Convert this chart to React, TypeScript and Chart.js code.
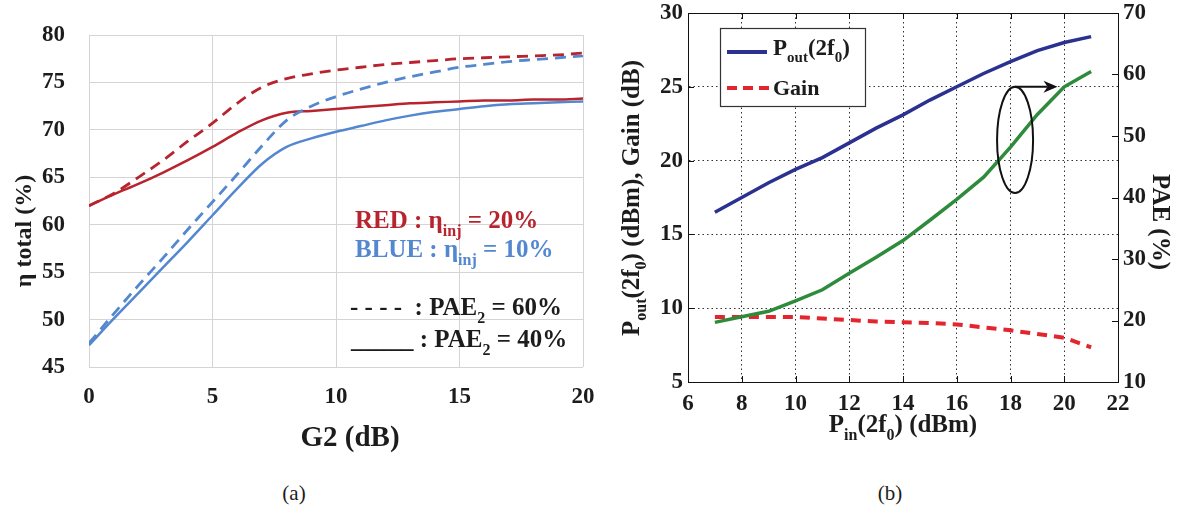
import React, { useEffect, useRef } from 'react';
import { Chart, registerables } from 'chart.js';

Chart.register(...registerables);

const SERIF = "'Liberation Serif', 'Times New Roman', serif";

// ---------- Chart (a) data ----------
const g2 = [0, 1, 2, 3, 4, 5, 6, 7, 8, 9, 10, 11, 12, 13, 14, 15, 16, 17, 18, 19, 20];
const redDashed = [62.0, 63.3, 65.0, 66.8, 68.8, 70.7, 72.8, 74.5, 75.4, 75.9, 76.3, 76.6, 76.9, 77.1, 77.3, 77.5, 77.6, 77.7, 77.8, 77.9, 78.1];
const redSolid = [62.0, 63.2, 64.3, 65.5, 66.8, 68.2, 69.7, 71.0, 71.8, 72.0, 72.2, 72.4, 72.6, 72.8, 72.9, 73.0, 73.1, 73.1, 73.2, 73.2, 73.3];
const blueDashed = [47.5, 50.6, 53.6, 56.5, 59.5, 62.4, 65.3, 68.3, 71.0, 72.5, 73.5, 74.3, 75.0, 75.6, 76.1, 76.6, 76.9, 77.2, 77.4, 77.6, 77.8];
const blueSolid = [47.3, 50.1, 52.8, 55.5, 58.2, 61.0, 63.8, 66.4, 68.2, 69.1, 69.8, 70.4, 71.0, 71.5, 71.9, 72.2, 72.5, 72.7, 72.8, 72.9, 73.0];
const aXRange = [0, 20, 5];
const aYRange = [45, 80, 5];

// ---------- Chart (b) data ----------
const pin = [7, 8, 9, 10, 11, 12, 13, 14, 15, 16, 17, 18, 19, 20, 21];
const pout = [16.5, 17.5, 18.5, 19.4, 20.2, 21.2, 22.2, 23.1, 24.1, 25.0, 25.9, 26.7, 27.45, 28.0, 28.4];
const gain = [9.4, 9.4, 9.4, 9.4, 9.3, 9.2, 9.1, 9.05, 9.0, 8.9, 8.7, 8.5, 8.25, 8.0, 7.35];
const pae = [19.7, 20.6, 21.5, 23.2, 25.0, 27.7, 30.3, 33.0, 36.3, 39.7, 43.3, 48.2, 53.5, 58.0, 60.5];
const bXRange = [6, 22, 2];
const bYLeftRange = [5, 30, 5];
const bYRightRange = [10, 70, 10];
// ellipse annotation (x in dBm, y on left axis)
const ELLIPSE = { x: 18.17, y: 21.4, rx: 0.67, ry: 3.6 };
const ARROW_END_X = 19.75;

const RED_A = '#b8242e';
const BLUE_A = '#5387cf';
const NAVY_B = '#2b3190';
const GREEN_B = '#2e8b3c';
const RED_B = '#e3262d';
const TXT = '#1c1c1c';

// canvas offsets (canvas is shifted up so the plot areas land where they should)
const OA = 10;
const OB = 12;

type Seg = { t: string; sub?: boolean };

function fontFor(size: number, sub: boolean | undefined, weight: string) {
  return `${weight} ${sub ? Math.round(size * 0.64) : size}px ${SERIF}`;
}

function drawRich(
  ctx: CanvasRenderingContext2D,
  segs: Seg[],
  x: number,
  y: number,
  o: { size: number; color?: string; weight?: string; align?: 'left' | 'center'; rotate?: number; vcenter?: boolean }
) {
  const weight = o.weight ?? 'bold';
  ctx.save();
  ctx.translate(x, y);
  if (o.rotate) ctx.rotate(o.rotate);
  ctx.textBaseline = 'alphabetic';
  ctx.textAlign = 'left';
  let w = 0;
  for (const s of segs) {
    ctx.font = fontFor(o.size, s.sub, weight);
    w += ctx.measureText(s.t).width;
  }
  let cx = o.align === 'center' ? -w / 2 : 0;
  const by = o.vcenter ? o.size * 0.34 : 0;
  ctx.fillStyle = o.color ?? TXT;
  for (const s of segs) {
    ctx.font = fontFor(o.size, s.sub, weight);
    ctx.fillText(s.t, cx, by + (s.sub ? o.size * 0.3 : 0));
    cx += ctx.measureText(s.t).width;
  }
  ctx.restore();
}

const tickFont = (size: number) => ({ family: SERIF, size, weight: 'bold' as const });

function ChartA() {
  const ref = useRef<HTMLCanvasElement>(null);
  useEffect(() => {
    const toPts = (ys: number[]) => ys.map((y, i) => ({ x: g2[i], y }));
    const decor = {
      id: 'decorA',
      afterDraw(chart: any) {
        const ctx = chart.ctx as CanvasRenderingContext2D;
        drawRich(ctx, [{ t: 'η total (%)' }], 23, 231 + OA, { size: 24, rotate: -Math.PI / 2, vcenter: true, align: 'center' });
        drawRich(ctx, [{ t: 'G2 (dB)' }], 350, 446 + OA, { size: 29, align: 'center' });
        drawRich(ctx, [{ t: 'RED : η' }, { t: 'inj', sub: true }, { t: ' = 20%' }], 355, 228 + OA, { size: 25, color: RED_A });
        drawRich(ctx, [{ t: 'BLUE : η' }, { t: 'inj', sub: true }, { t: ' = 10%' }], 355, 257 + OA, { size: 25, color: BLUE_A });
        drawRich(ctx, [{ t: '- - - -  : PAE' }, { t: '2', sub: true }, { t: ' = 60%' }], 350, 315 + OA, { size: 25 });
        drawRich(ctx, [{ t: '_____ : PAE' }, { t: '2', sub: true }, { t: ' = 40%' }], 351, 347 + OA, { size: 25 });
      },
    };
    const line = (data: number[], color: string, dashed: boolean) => ({
      data: toPts(data),
      borderColor: color,
      borderWidth: dashed ? 2.8 : 2.5,
      borderDash: dashed ? [11, 7] : [],
      pointRadius: 0,
      cubicInterpolationMode: 'monotone' as const,
      fill: false,
    });
    const chart = new Chart(ref.current!, {
      type: 'line',
      data: {
        datasets: [
          line(blueDashed, BLUE_A, true),
          line(blueSolid, BLUE_A, false),
          line(redDashed, RED_A, true),
          line(redSolid, RED_A, false),
        ],
      },
      options: {
        animation: false,
        responsive: false,
        devicePixelRatio: 1,
        layout: { padding: { top: 35 + OA, right: 30, left: 0, bottom: 0 } },
        plugins: { legend: { display: false }, tooltip: { enabled: false } },
        scales: {
          x: {
            type: 'linear',
            min: aXRange[0],
            max: aXRange[1],
            ticks: { stepSize: aXRange[2], font: tickFont(23), color: TXT, padding: 16 },
            grid: { color: '#d4d4d4', drawTicks: false, lineWidth: 1 },
            border: { display: false },
            afterFit: (s: any) => { s.height = 103; },
          },
          y: {
            type: 'linear',
            min: aYRange[0],
            max: aYRange[1],
            ticks: { stepSize: aYRange[2], font: tickFont(23), color: TXT, padding: 24 },
            grid: { color: '#d4d4d4', drawTicks: false, lineWidth: 1 },
            border: { display: false },
            afterFit: (s: any) => { s.width = 89; },
          },
        },
      },
      plugins: [decor],
    } as any);
    return () => chart.destroy();
  }, []);
  return <canvas ref={ref} width={613} height={470 + OA} style={{ position: 'absolute', left: 0, top: -OA, width: 613, height: 470 + OA }} />;
}

function ChartB() {
  const ref = useRef<HTMLCanvasElement>(null);
  useEffect(() => {
    const toPts = (ys: number[]) => ys.map((y, i) => ({ x: pin[i], y }));
    const decor = {
      id: 'decorB',
      afterDraw(chart: any) {
        const ctx = chart.ctx as CanvasRenderingContext2D;
        const { left, right, top, bottom } = chart.chartArea;
        const xs = chart.scales.x, yl = chart.scales.y, yr = chart.scales.y1;
        ctx.save();
        ctx.strokeStyle = '#111';
        ctx.lineWidth = 1;
        ctx.beginPath();
        ctx.moveTo(left, Math.round(top) + 0.5);
        ctx.lineTo(right, Math.round(top) + 0.5);
        const T = 6;
        for (const t of xs.ticks) {
          const p = Math.round(xs.getPixelForValue(t.value)) + 0.5;
          ctx.moveTo(p, bottom); ctx.lineTo(p, bottom - T);
          ctx.moveTo(p, top); ctx.lineTo(p, top + T);
        }
        for (const t of yl.ticks) {
          const p = Math.round(yl.getPixelForValue(t.value)) + 0.5;
          ctx.moveTo(left, p); ctx.lineTo(left + T, p);
        }
        for (const t of yr.ticks) {
          const p = Math.round(yr.getPixelForValue(t.value)) + 0.5;
          ctx.moveTo(right, p); ctx.lineTo(right - T, p);
        }
        ctx.stroke();

        // legend box
        const bx = left + 32, by = top + 15, bw = 145, bh = 78;
        ctx.fillStyle = '#fff';
        ctx.fillRect(bx, by, bw, bh);
        ctx.strokeStyle = '#333';
        ctx.lineWidth = 1.2;
        ctx.strokeRect(bx + 0.5, by + 0.5, bw, bh);
        ctx.lineWidth = 4;
        ctx.strokeStyle = NAVY_B;
        ctx.beginPath();
        ctx.moveTo(bx + 7, by + 24); ctx.lineTo(bx + 47, by + 24);
        ctx.stroke();
        ctx.strokeStyle = RED_B;
        ctx.setLineDash([10, 6]);
        ctx.beginPath();
        ctx.moveTo(bx + 7, by + 60); ctx.lineTo(bx + 49, by + 60);
        ctx.stroke();
        ctx.setLineDash([]);
        drawRich(ctx, [{ t: 'P' }, { t: 'out', sub: true }, { t: '(2f' }, { t: '0', sub: true }, { t: ')' }], bx + 53, by + 27, { size: 23, weight: 'bold' });
        drawRich(ctx, [{ t: 'Gain' }], bx + 53, by + 67, { size: 22, weight: 'bold' });

        // ellipse + arrow
        const ex = xs.getPixelForValue(ELLIPSE.x);
        const ey = yl.getPixelForValue(ELLIPSE.y);
        const erx = Math.abs(xs.getPixelForValue(ELLIPSE.x + ELLIPSE.rx) - ex);
        const ery = Math.abs(yl.getPixelForValue(ELLIPSE.y + ELLIPSE.ry) - ey);
        ctx.strokeStyle = '#111';
        ctx.lineWidth = 2;
        ctx.beginPath();
        ctx.ellipse(ex, ey, erx, ery, 0, 0, Math.PI * 2);
        ctx.stroke();
        const ay = ey - ery;
        const ax = xs.getPixelForValue(ARROW_END_X);
        ctx.beginPath();
        ctx.moveTo(ex, ay); ctx.lineTo(ax - 10, ay);
        ctx.stroke();
        ctx.fillStyle = '#111';
        ctx.beginPath();
        ctx.moveTo(ax, ay); ctx.lineTo(ax - 14, ay - 6); ctx.lineTo(ax - 10, ay); ctx.lineTo(ax - 14, ay + 6);
        ctx.closePath();
        ctx.fill();
        ctx.restore();

        // axis titles
        drawRich(ctx, [{ t: 'P' }, { t: 'out', sub: true }, { t: '(2f' }, { t: '0', sub: true }, { t: ') (dBm), Gain (dB)' }], 30, 198 + OB, { size: 25, rotate: -Math.PI / 2, vcenter: true, align: 'center' });
        drawRich(ctx, [{ t: 'PAE (%)' }], 561, 222 + OB, { size: 25, rotate: Math.PI / 2, vcenter: true, align: 'center' });
        drawRich(ctx, [{ t: 'P' }, { t: 'in', sub: true }, { t: '(2f' }, { t: '0', sub: true }, { t: ') (dBm)' }], 303, 432 + OB, { size: 25, align: 'center' });
      },
    };
    const chart = new Chart(ref.current!, {
      type: 'line',
      data: {
        datasets: [
          { data: toPts(pout), borderColor: NAVY_B, borderWidth: 3.5, pointRadius: 0, tension: 0, yAxisID: 'y' },
          { data: toPts(pae), borderColor: GREEN_B, borderWidth: 3.5, pointRadius: 0, tension: 0, yAxisID: 'y1' },
          { data: toPts(gain), borderColor: RED_B, borderWidth: 4, borderDash: [10, 7], pointRadius: 0, tension: 0, yAxisID: 'y' },
        ],
      },
      options: {
        animation: false,
        responsive: false,
        devicePixelRatio: 1,
        layout: { padding: { top: 13 + OB, right: 0, left: 0, bottom: 0 } },
        plugins: { legend: { display: false }, tooltip: { enabled: false } },
        scales: {
          x: {
            type: 'linear',
            min: bXRange[0],
            max: bXRange[1],
            ticks: { stepSize: bXRange[2], font: tickFont(23), color: TXT, padding: 8 },
            grid: { color: '#333', drawTicks: false, lineWidth: 1 },
            border: { display: true, color: '#111', width: 1, dash: [1.5, 3] },
            afterFit: (s: any) => { s.height = 88; },
          },
          y: {
            type: 'linear',
            position: 'left',
            min: bYLeftRange[0],
            max: bYLeftRange[1],
            ticks: { stepSize: bYLeftRange[2], font: tickFont(23), color: TXT, padding: 5 },
            grid: { color: '#333', drawTicks: false, lineWidth: 1 },
            border: { display: true, color: '#111', width: 1, dash: [1.5, 3] },
            afterFit: (s: any) => { s.width = 88; },
          },
          y1: {
            type: 'linear',
            position: 'right',
            min: bYRightRange[0],
            max: bYRightRange[1],
            ticks: { stepSize: bYRightRange[2], font: tickFont(23), color: TXT, padding: 5 },
            grid: { display: false, drawTicks: false },
            border: { display: true, color: '#111', width: 1 },
            afterFit: (s: any) => { s.width = 66; },
          },
        },
      },
      plugins: [decor],
    } as any);
    return () => chart.destroy();
  }, []);
  return <canvas ref={ref} width={584} height={470 + OB} style={{ position: 'absolute', left: 600, top: -OB, width: 584, height: 470 + OB }} />;
}

export default function App() {
  const cap: React.CSSProperties = { position: 'absolute', top: 481, fontFamily: SERIF, fontSize: 21, color: TXT, width: 60, textAlign: 'center' };
  return (
    <div style={{ position: 'fixed', left: 0, top: 0, width: 1184, height: 515, background: '#fff', overflow: 'hidden' }}>
      <ChartA />
      <ChartB />
      <div style={{ ...cap, left: 264 }}>(a)</div>
      <div style={{ ...cap, left: 860 }}>(b)</div>
    </div>
  );
}
